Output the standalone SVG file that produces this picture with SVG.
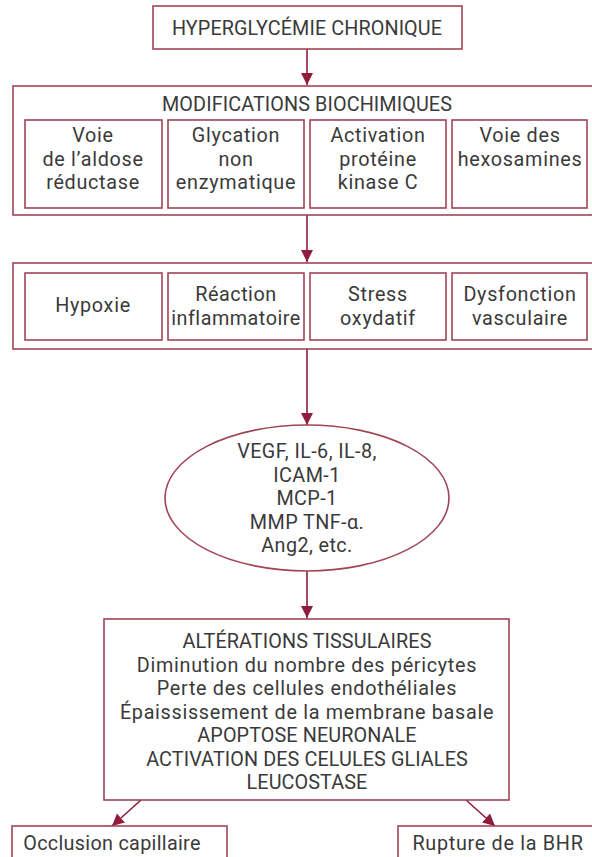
<svg xmlns="http://www.w3.org/2000/svg" width="592" height="857" viewBox="0 0 592 857">
<style>
.box{fill:#fff;stroke:#a04458;stroke-width:1.6}
.t{font-family:Roboto,"Liberation Sans",sans-serif;font-size:19.8px;fill:#3a3a3a;text-anchor:middle;letter-spacing:0.7px}
.u{letter-spacing:0.1px}
.c{stroke:#8e1c3c;stroke-width:1.6;fill:none}
</style>
<defs>
<marker id="ah" markerUnits="userSpaceOnUse" markerWidth="13" markerHeight="13" viewBox="0 0 13 13" refX="12" refY="6.5" orient="auto">
<path d="M0,0.5 L12,6.5 L0,12.5 Z" fill="#8e1c3c"/>
</marker>
</defs>
<rect width="592" height="857" fill="#fff"/>
<g id="connectors">
<line class="c" x1="307" y1="49" x2="307" y2="85" marker-end="url(#ah)"/>
<line class="c" x1="307" y1="215" x2="307" y2="262" marker-end="url(#ah)"/>
<line class="c" x1="307" y1="349" x2="307" y2="425" marker-end="url(#ah)"/>
<line class="c" x1="307" y1="571" x2="307" y2="618" marker-end="url(#ah)"/>
<line class="c" x1="141" y1="800" x2="112" y2="826" marker-end="url(#ah)"/>
<line class="c" x1="466" y1="800" x2="495" y2="826" marker-end="url(#ah)"/>
</g>
<g id="hyperglycemie">
<rect class="box" x="153" y="6" width="309" height="43"/>
<text class="t u" x="307" y="35">HYPERGLYCÉMIE CHRONIQUE</text>
</g>
<g id="modifications">
<rect class="box" x="13" y="86" width="585" height="129"/>
<text class="t u" x="307" y="111">MODIFICATIONS BIOCHIMIQUES</text>
</g>
<g id="aldose">
<rect class="box" x="25" y="120" width="137" height="88"/>
<text class="t" y="142"><tspan x="93">Voie</tspan><tspan x="93" dy="23.5">de l’aldose</tspan><tspan x="93" dy="23.5">réductase</tspan></text>
</g>
<g id="glycation">
<rect class="box" x="168" y="120" width="136" height="88"/>
<text class="t" y="142"><tspan x="236">Glycation</tspan><tspan x="236" dy="23.5">non</tspan><tspan x="236" dy="23.5">enzymatique</tspan></text>
</g>
<g id="pkc">
<rect class="box" x="310" y="120" width="136" height="88"/>
<text class="t" y="142"><tspan x="378">Activation</tspan><tspan x="378" dy="23.5">protéine</tspan><tspan x="378" dy="23.5">kinase C</tspan></text>
</g>
<g id="hexosamines">
<rect class="box" x="452" y="120" width="135" height="88"/>
<text class="t" y="142"><tspan x="520">Voie des</tspan><tspan x="520" dy="23.5">hexosamines</tspan></text>
</g>
<g id="consequences">
<rect class="box" x="13" y="263" width="585" height="86"/>
</g>
<g id="hypoxie">
<rect class="box" x="25" y="273" width="137" height="67"/>
<text class="t" x="93" y="312">Hypoxie</text>
</g>
<g id="inflammation">
<rect class="box" x="168" y="273" width="136" height="67"/>
<text class="t" y="301" style="letter-spacing:0.5px"><tspan x="236">Réaction</tspan><tspan x="236" dy="23.5">inflammatoire</tspan></text>
</g>
<g id="stress">
<rect class="box" x="310" y="273" width="136" height="67"/>
<text class="t" y="301"><tspan x="378">Stress</tspan><tspan x="378" dy="23.5">oxydatif</tspan></text>
</g>
<g id="dysfonction">
<rect class="box" x="452" y="273" width="135" height="67"/>
<text class="t" y="301"><tspan x="520">Dysfonction</tspan><tspan x="520" dy="23.5">vasculaire</tspan></text>
</g>
<g id="mediateurs">
<ellipse class="box" cx="307" cy="498" rx="142" ry="73"/>
<text class="t" y="458" style="letter-spacing:0.4px"><tspan x="307">VEGF, IL-6, IL-8,</tspan><tspan x="307" dy="23.5">ICAM-1</tspan><tspan x="307" dy="23.5">MCP-1</tspan><tspan x="307" dy="23.5">MMP TNF-α.</tspan><tspan x="307" dy="23.5">Ang2, etc.</tspan></text>
</g>
<g id="alterations">
<rect class="box" x="104" y="619" width="405" height="181"/>
<text class="t" y="648"><tspan x="307" class="u">ALTÉRATIONS TISSULAIRES</tspan><tspan x="307" dy="23.5">Diminution du nombre des péricytes</tspan><tspan x="307" dy="23.5">Perte des cellules endothéliales</tspan><tspan x="307" dy="23.5">Épaississement de la membrane basale</tspan><tspan x="307" dy="23.5" class="u">APOPTOSE NEURONALE</tspan><tspan x="307" dy="23.5" class="u">ACTIVATION DES CELULES GLIALES</tspan><tspan x="307" dy="23.5" class="u">LEUCOSTASE</tspan></text>
</g>
<g id="occlusion">
<rect class="box" x="12" y="826" width="215" height="44"/>
<text class="t" x="112" y="850" style="letter-spacing:0.3px">Occlusion capillaire</text>
</g>
<g id="rupture">
<rect class="box" x="398" y="826" width="202" height="44"/>
<text class="t" x="498" y="850">Rupture de la BHR</text>
</g>
</svg>
